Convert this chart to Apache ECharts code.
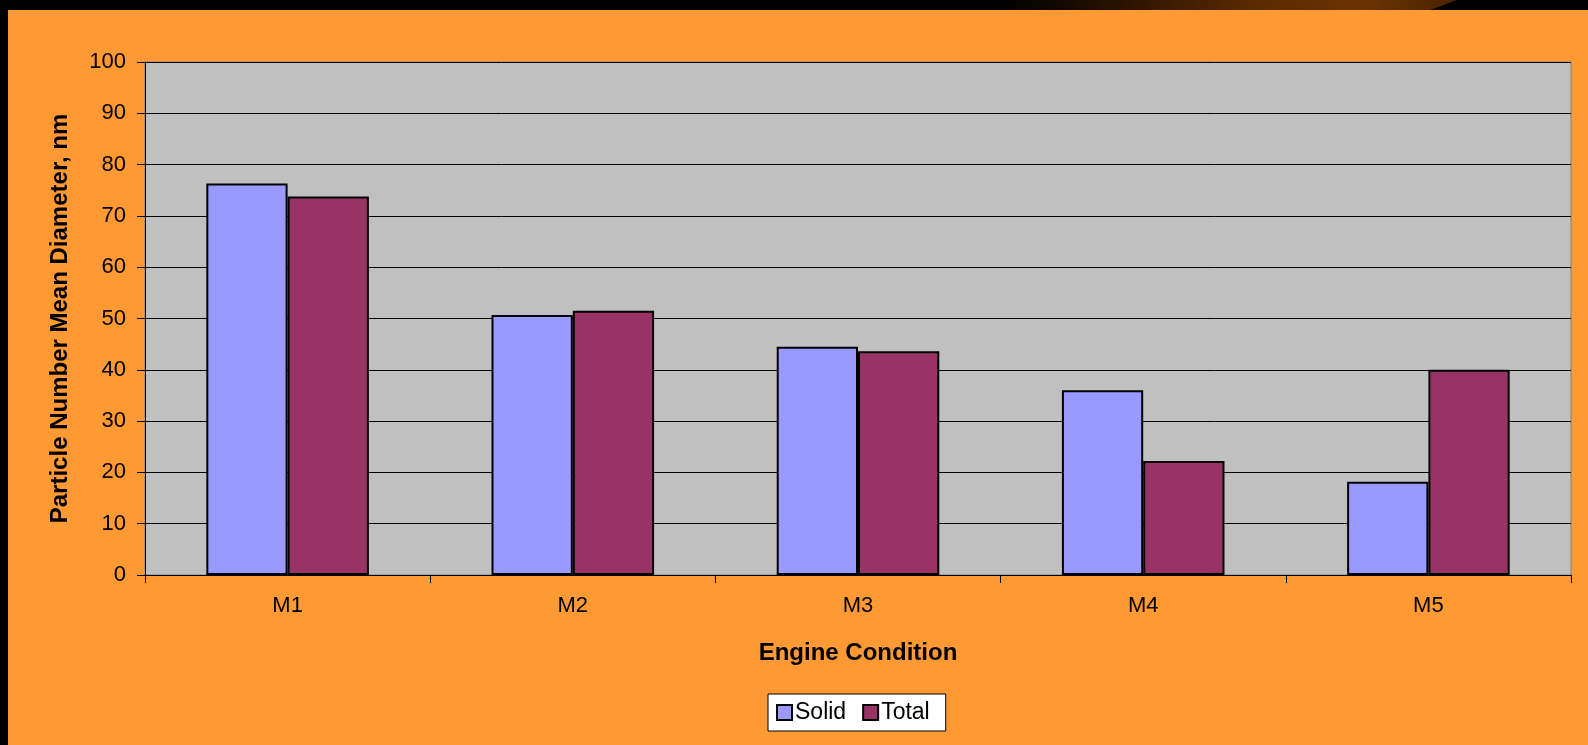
<!DOCTYPE html>
<html>
<head>
<meta charset="utf-8">
<script src="https://cdn.jsdelivr.net/npm/echarts@6/dist/echarts.min.js"></script>
<style>
  html, body { margin: 0; padding: 0; background: #000; }
  #main { width: 1588px; height: 745px; }
</style>
</head>
<body>
<div id="main"></div>
<script>
// data
var categories = ['M1', 'M2', 'M3', 'M4', 'M5'];
var solidValues = [76.3, 50.7, 44.5, 36.0, 18.2];
var totalValues = [73.8, 51.5, 43.6, 22.2, 40.0];
var yTicks = [0, 10, 20, 30, 40, 50, 60, 70, 80, 90, 100];

var font = '"Liberation Sans", Arial, sans-serif';

var myChart = echarts.init(document.getElementById('main'));
myChart.setOption({
    backgroundColor: '#000',
    animation: false,
    textStyle: { fontFamily: font },
    graphic: [
        // orange slide background
        { type: 'rect', z: -10, shape: { x: 8, y: 10, width: 1580, height: 735 }, style: { fill: '#FF9933' } },
        // brown stripe along the top edge
        {
            type: 'polygon', z: -10,
            shape: { points: [[1000, 0], [1457, 0], [1430, 10], [1000, 10]] },
            style: {
                fill: new echarts.graphic.LinearGradient(0, 0, 1, 0, [
                    { offset: 0, color: '#000' },
                    { offset: 0.1, color: '#0d0600' },
                    { offset: 0.55, color: '#5a2a00' },
                    { offset: 0.8, color: '#6b3300' },
                    { offset: 1, color: '#4a2200' }
                ])
            }
        }
    ],
    grid: {
        left: 145, right: 17, top: 62, bottom: 170,
        show: true,
        backgroundColor: '#C0C0C0',
        borderColor: '#808080',
        borderWidth: 1
    },
    legend: {
        data: ['Solid', 'Total'],
        left: 768, top: 694,
        padding: [7, 16, 7, 8],
        backgroundColor: '#fff',
        borderColor: '#000',
        borderWidth: 1,
        borderRadius: 0,
        itemWidth: 15, itemHeight: 15,
        itemGap: 16,
        icon: 'rect',
        textStyle: { fontSize: 23, color: '#000', fontFamily: font, padding: [0, 0, 0, -2] }
    },
    xAxis: {
        type: 'category',
        data: categories,
        name: 'Engine Condition',
        nameLocation: 'middle',
        nameGap: 66,
        nameTextStyle: { fontSize: 24, fontWeight: 'bold', color: '#000', fontFamily: font },
        axisLine: { lineStyle: { color: '#000', width: 1 } },
        axisTick: { show: true, length: 8, alignWithLabel: false, lineStyle: { color: '#000' } },
        axisLabel: { fontSize: 22, color: '#000', margin: 20, fontFamily: font }
    },
    yAxis: {
        type: 'value',
        min: yTicks[0],
        max: yTicks[yTicks.length - 1],
        interval: 10,
        name: 'Particle Number Mean Diameter, nm',
        nameLocation: 'middle',
        nameGap: 73,
        nameTextStyle: { fontSize: 24, fontWeight: 'bold', color: '#000', fontFamily: font },
        axisLine: { show: true, lineStyle: { color: '#000', width: 1 } },
        axisTick: { show: true, length: 8, lineStyle: { color: '#000' } },
        axisLabel: { fontSize: 22, color: '#000', margin: 19, fontFamily: font },
        splitLine: { show: true, lineStyle: { color: '#000', width: 1 } }
    },
    series: [
        {
            name: 'Solid',
            type: 'bar',
            data: solidValues,
            barGap: '0%',
            barCategoryGap: '43%',
            itemStyle: { color: '#9999FF', borderColor: '#000', borderWidth: 2 }
        },
        {
            name: 'Total',
            type: 'bar',
            data: totalValues,
            barGap: '0%',
            barCategoryGap: '43%',
            itemStyle: { color: '#993366', borderColor: '#000', borderWidth: 2 }
        }
    ]
});
</script>
</body>
</html>
